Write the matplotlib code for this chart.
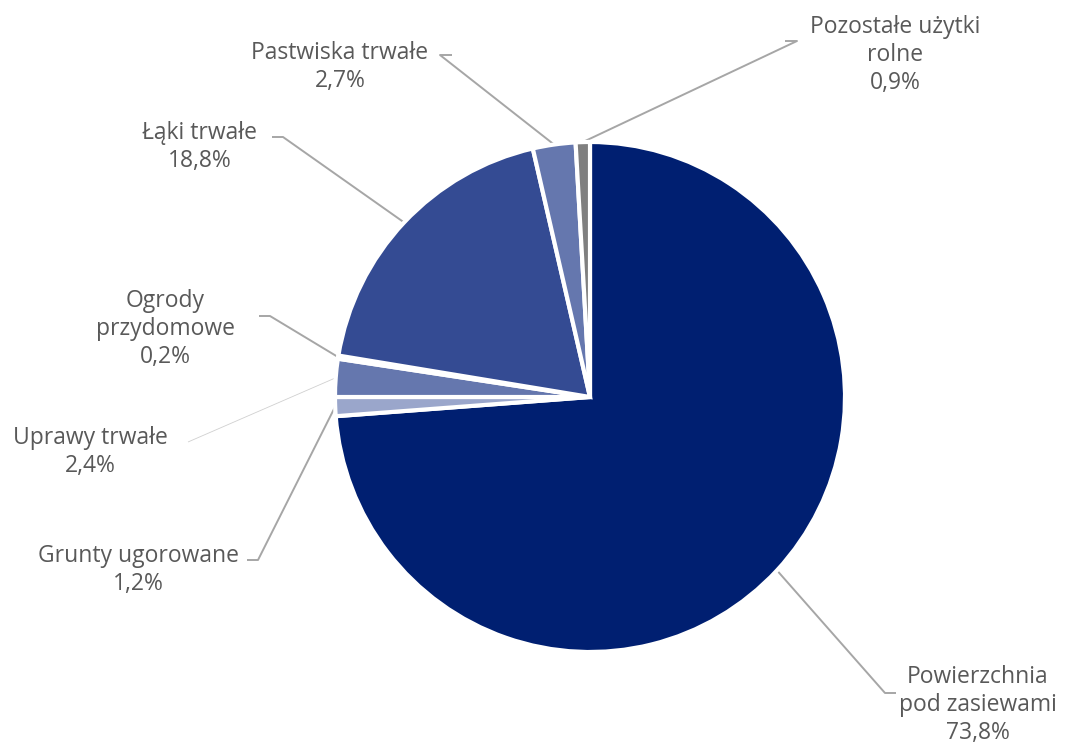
import numpy as np
import matplotlib.pyplot as plt

# data (clockwise from 12 o'clock)
categories = ['Powierzchnia\npod zasiewami', 'Grunty ugorowane', 'Uprawy trwałe',
              'Ogrody\nprzydomowe', 'Łąki trwałe', 'Pastwiska trwałe',
              'Pozostałe użytki\nrolne']
shares = [73.8, 1.2, 2.4, 0.2, 18.8, 2.7, 0.9]
colors = ['#001F71', '#9AA6CB', '#6577AE', '#CBD1E5', '#344B93', '#6577AE', '#7F7F7F']

# label centre (px) and leader knee / tick end (px), y measured from top
label_pos = [(978, 705), (138, 570), (90, 452), (165, 329), (200, 147), (340, 67), (895, 55)]
knee_pos = [(885, 693), (258, 560), (188, 442), (270, 316), (283, 137), (440, 55), (797, 41)]
tick_end = [(896, 693), (247, 560), None, (259, 316), (272, 137), (452, 55), (785, 41)]

W, H = 1069, 746
CX, CY, R = 590, 397, 255

plt.rcParams['font.family'] = ['Open Sans', 'DejaVu Sans']

fig = plt.figure(figsize=(W / 100, H / 100), dpi=100)
ax = fig.add_axes([0, 0, 1, 1])

wedges, _ = ax.pie(shares, colors=colors, startangle=90, counterclock=False,
                   center=(CX, H - CY), radius=R,
                   wedgeprops=dict(edgecolor='white', linewidth=3))
ax.set_xlim(0, W)
ax.set_ylim(0, H)
ax.set_aspect('equal')
ax.axis('off')

for i, w in enumerate(wedges):
    ang = np.deg2rad((w.theta1 + w.theta2) / 2)
    ex = CX + R * np.cos(ang)
    ey = (H - CY) + R * np.sin(ang)
    kx, ky = knee_pos[i]
    xs = [ex, kx]
    ys = [ey, H - ky]
    if tick_end[i] is not None:
        xs.append(tick_end[i][0])
        ys.append(H - tick_end[i][1])
    thin = tick_end[i] is None
    ax.plot(xs, ys, color='#D0D0D0' if thin else '#A6A6A6',
            lw=0.6 if thin else 1.4, solid_capstyle='butt', zorder=0)

    pct = f'{shares[i]:.1f}'.replace('.', ',') + '%'
    lx, ly = label_pos[i]
    ax.text(lx, H - ly, f'{categories[i]}\n{pct}', ha='center', va='center',
            fontsize=16.5, color='#595959', linespacing=1.24)

fig.savefig('out.png', dpi=100)
